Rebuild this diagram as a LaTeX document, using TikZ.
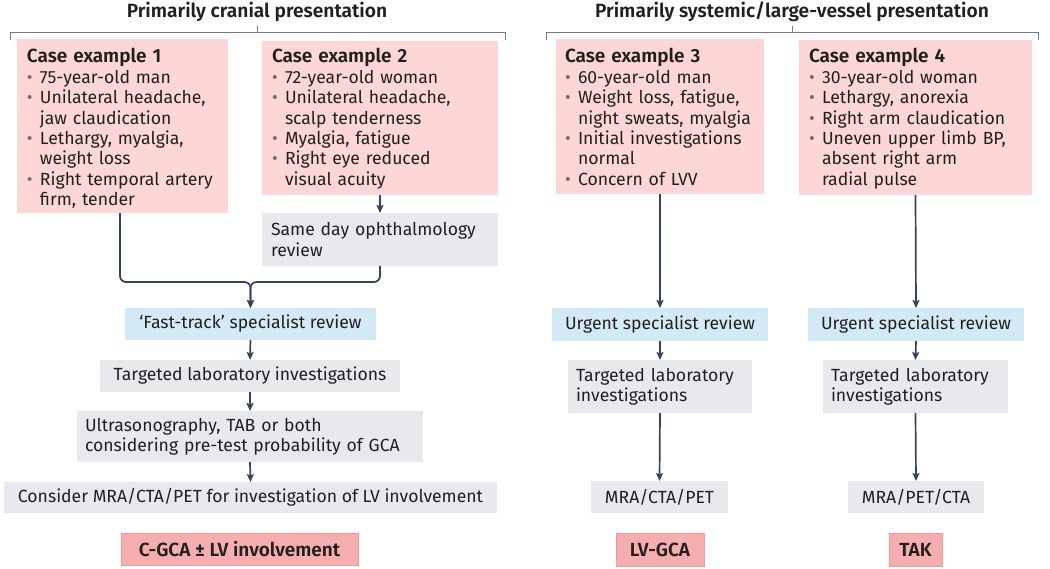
\documentclass[tikz,border=0pt]{standalone}
\usepackage{fontspec}
\setmainfont{Fira Sans}[BoldFont=Fira Sans SemiBold]
\usetikzlibrary{arrows.meta}
\definecolor{casepink}{HTML}{FDD6D6}
\definecolor{boxgray}{HTML}{E8E9ED}
\definecolor{boxblue}{HTML}{D3EAF6}
\definecolor{respink}{HTML}{F5ADAF}
\definecolor{resborder}{HTML}{EF9A9D}
\definecolor{arrowcol}{HTML}{35435B}
\definecolor{brackcol}{HTML}{7A7A7A}
\definecolor{txt}{HTML}{231F20}
\definecolor{bulgray}{HTML}{6D6E71}
\newcommand{\bitem}[1]{\par\hangindent=13pt\hangafter=1\noindent\makebox[13pt][l]{\textcolor{bulgray}{\textbullet}}#1\par}
\newcommand{\bodyfont}{\fontsize{17.6}{20.4}\selectfont}
\newcommand{\titlefont}{\fontsize{19}{20.4}\selectfont\bfseries}
\tikzset{
  every node/.style={text=txt, inner sep=0pt, outer sep=0pt},
  casebox/.style={fill=casepink, anchor=north west},
  graybox/.style={fill=boxgray, anchor=north west},
  bluebox/.style={fill=boxblue, anchor=north west},
  resbox/.style={fill=respink, draw=resborder, line width=0.8pt, anchor=north west},
  restext/.style={font=\titlefont},
  casetext/.style={anchor=base west, font=\bodyfont},
  boxtext/.style={align=left, font=\bodyfont},
  headtext/.style={font=\fontsize{19.2}{22}\selectfont\bfseries},
  conn/.style={draw=arrowcol, line width=1.7pt, -{Stealth[length=8pt,width=7pt,inset=1.5pt]}},
  bracket/.style={draw=brackcol, line width=0.9pt}
}
\begin{document}
\begin{tikzpicture}[x=1pt,y=-1pt]
\useasboundingbox (0,0) rectangle (1050,569);
% headers
\node[headtext, anchor=base] (h1) at (257,18) {Primarily cranial presentation};
\node[headtext, anchor=base] (h2) at (792,18) {Primarily systemic/large-vessel presentation};
\draw[bracket] (10,40) -- (10,32) -- (505,32) -- (505,40);
\draw[bracket] (257,26) -- (257,32);
\draw[bracket] (546,40) -- (546,32) -- (1038,32) -- (1038,40);
\draw[bracket] (792,26) -- (792,32);
% case boxes
\node[casebox, minimum width=211pt, minimum height=174pt] (case1) at (17,39) {};
\node[casebox, minimum width=236pt, minimum height=154pt] (case2) at (262,41) {};
\node[casebox, minimum width=208pt, minimum height=155pt] (case3) at (556,39) {};
\node[casebox, minimum width=233pt, minimum height=155pt] (case4) at (799,40) {};
\node[casetext, text width=198pt] (case1t) at (27,63) {\raggedright{\titlefont Case example 1}
\bitem{75-year-old man}
\bitem{Unilateral headache,\newline jaw claudication}
\bitem{Lethargy, myalgia,\newline weight loss}
\bitem{Right temporal artery\newline firm, tender}};
\node[casetext, text width=222pt] (case2t) at (272,63) {\raggedright{\titlefont Case example 2}
\bitem{72-year-old woman}
\bitem{Unilateral headache,\newline scalp tenderness}
\bitem{Myalgia, fatigue}
\bitem{Right eye reduced\newline visual acuity}};
\node[casetext, text width=198pt] (case3t) at (565,63) {\raggedright{\titlefont Case example 3}
\bitem{60-year-old man}
\bitem{Weight loss, fatigue,\newline night sweats, myalgia}
\bitem{Initial investigations\newline normal}
\bitem{Concern of LVV}};
\node[casetext, text width=222pt] (case4t) at (809,63) {\raggedright{\titlefont Case example 4}
\bitem{30-year-old woman}
\bitem{Lethargy, anorexia}
\bitem{Right arm claudication}
\bitem{Uneven upper limb BP,\newline absent right arm\newline radial pulse}};
% left column
\node[graybox, minimum width=236pt, minimum height=53pt] (same) at (262,213) {};
\node[boxtext, text width=218pt] (samet) at (same.center) {Same day ophthalmology\\review};
\node[bluebox, minimum width=251pt, minimum height=32pt] (fast) at (125,308) {};
\node[boxtext] (fastt) at (fast.center) {‘Fast-track’ specialist review};
\node[graybox, minimum width=300pt, minimum height=32pt] (lab1) at (100,360) {};
\node[boxtext] (lab1t) at (lab1.center) {Targeted laboratory investigations};
\node[graybox, minimum width=346pt, minimum height=51pt] (us) at (77,411) {};
\node[boxtext, text width=330pt] (ust) at (us.center) {Ultrasonography, TAB or both\\considering pre-test probability of GCA};
\node[graybox, minimum width=493pt, minimum height=31pt] (cons) at (4,482) {};
\node[boxtext] (const) at (cons.center) {Consider MRA/CTA/PET for investigation of LV involvement};
\node[resbox, minimum width=237pt, minimum height=32pt] (res1) at (121,533) {};
\node[restext] (res1t) at (res1.center) {C-GCA ± LV involvement};
% middle column
\node[bluebox, minimum width=216pt, minimum height=33pt] (urg1) at (552,308) {};
\node[boxtext] (urg1t) at (urg1.center) {Urgent specialist review};
\node[graybox, minimum width=184pt, minimum height=53pt] (lab2) at (568,360) {};
\node[boxtext, text width=168pt] (lab2t) at (lab2.center) {Targeted laboratory\\investigations};
\node[graybox, minimum width=137pt, minimum height=32pt] (mra1) at (591,481) {};
\node[boxtext] (mra1t) at (mra1.center) {MRA/CTA/PET};
\node[resbox, minimum width=88pt, minimum height=33pt] (res2) at (616,533) {};
\node[restext] (res2t) at (res2.center) {LV-GCA};
% right column
\node[bluebox, minimum width=216pt, minimum height=33pt] (urg2) at (808,308) {};
\node[boxtext] (urg2t) at (urg2.center) {Urgent specialist review};
\node[graybox, minimum width=185pt, minimum height=53pt] (lab3) at (823,360) {};
\node[boxtext, text width=169pt] (lab3t) at (lab3.center) {Targeted laboratory\\investigations};
\node[graybox, minimum width=136pt, minimum height=32pt] (mra2) at (848,481) {};
\node[boxtext] (mra2t) at (mra2.center) {MRA/PET/CTA};
\node[resbox, minimum width=53pt, minimum height=33pt] (res3) at (889,533) {};
\node[restext] (res3t) at (res3.center) {TAK};
% connectors
\coordinate (merge) at (fast.north |- 0,282);
\draw[conn] (case2.south) -- (same.north);
\draw[conn, rounded corners=6pt] (case1.south -| 120,0) |- (merge) -- (fast.north);
\draw[conn, rounded corners=6pt] (same.south) |- (merge) -- (fast.north);
\draw[conn] (fast.south) -- (lab1.north);
\draw[conn] (lab1.south) -- (us.north);
\draw[conn] (us.south) -- (cons.north);
\draw[conn] (case3.south) -- (urg1.north);
\draw[conn] (urg1.south) -- (lab2.north);
\draw[conn] (lab2.south) -- (mra1.north);
\draw[conn] (case4.south) -- (urg2.north);
\draw[conn] (urg2.south) -- (lab3.north);
\draw[conn] (lab3.south) -- (mra2.north);
\end{tikzpicture}
\end{document}
